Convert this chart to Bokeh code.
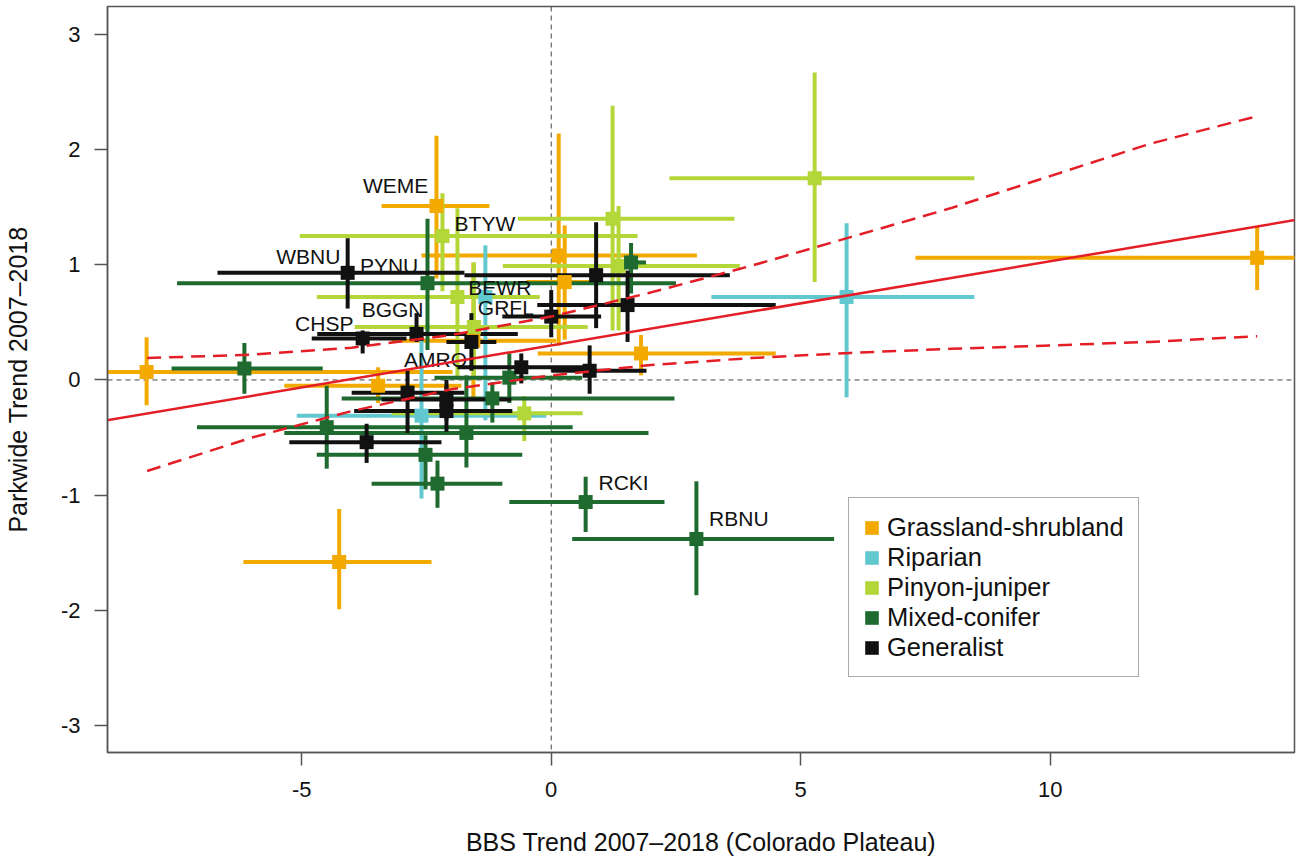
from bokeh.plotting import figure
from bokeh.models import Range1d, FixedTicker, Legend, LegendItem, ColumnDataSource, Span
from bokeh.embed import file_html
from bokeh.resources import INLINE
from bokeh.core.properties import value

# each row: bbs trend, parkwide trend, bbs low, bbs high, parkwide low, parkwide high
grassland = [
    (-8.11, 0.07, -14.2, -1.98, -0.22, 0.37),
    (-3.47, -0.05, -5.35, -1.80, -0.20, 0.11),
    (-4.25, -1.58, -6.17, -2.40, -1.99, -1.12),
    (-2.30, 1.51, -3.40, -1.24, 0.88, 2.12),
    (0.15, 1.08, -2.60, 2.92, 0.30, 2.14),
    (0.27, 0.85, -0.50, 1.00, 0.35, 1.34),
    (1.80, 0.23, -0.27, 4.50, 0.04, 0.39),
    (14.15, 1.06, 7.30, 21.0, 0.78, 1.33),
    (-1.56, 0.34, -3.20, 0.10, -0.18, 1.02),
]
riparian = [
    (5.92, 0.72, 3.21, 8.48, -0.15, 1.36),
    (-1.32, 0.72, -2.30, -0.30, -0.35, 1.17),
    (-2.60, -0.31, -5.10, -0.10, -1.03, 0.43),
]
pinyon = [
    (5.28, 1.75, 2.37, 8.48, 0.85, 2.67),
    (-2.18, 1.25, -5.04, 1.73, 0.77, 1.62),
    (1.23, 1.40, -0.67, 3.67, 0.43, 2.38),
    (1.35, 0.99, -0.97, 3.78, 0.43, 1.51),
    (-1.88, 0.72, -4.70, -0.23, 0.00, 1.49),
    (-1.55, 0.46, -3.94, 0.73, 0.00, 1.02),
    (-0.54, -0.29, -3.20, 0.63, -0.53, -0.14),
]
conifer = [
    (-6.15, 0.10, -7.61, -4.58, -0.12, 0.32),
    (-2.48, 0.84, -7.50, 2.50, 0.26, 1.40),
    (1.60, 1.02, 1.30, 1.90, 0.75, 1.19),
    (-0.84, 0.02, -2.34, 0.62, -0.20, 0.23),
    (-1.18, -0.16, -4.20, 2.47, -0.37, -0.02),
    (-1.70, -0.46, -5.35, 1.95, -0.76, 0.04),
    (-4.50, -0.41, -7.10, 0.43, -0.77, -0.05),
    (-2.28, -0.90, -3.60, -0.98, -1.11, -0.70),
    (-2.52, -0.65, -4.70, -0.58, -0.95, -0.48),
    (0.69, -1.06, -0.84, 2.27, -1.32, -0.84),
    (2.91, -1.38, 0.42, 5.67, -1.87, -0.88),
]
generalist = [
    (-4.08, 0.93, -6.69, -1.74, 0.62, 1.23),
    (0.90, 0.91, -1.74, 3.58, 0.45, 1.37),
    (1.53, 0.65, -0.28, 4.50, 0.33, 0.95),
    (0.00, 0.55, -0.98, 1.00, 0.37, 0.78),
    (-2.70, 0.40, -4.69, -0.67, 0.33, 0.58),
    (-3.78, 0.36, -4.80, -2.90, 0.23, 0.43),
    (-0.60, 0.11, -1.88, 0.70, -0.03, 0.23),
    (0.77, 0.08, 0.00, 1.91, -0.12, 0.30),
    (-2.88, -0.11, -4.00, -1.74, -0.46, 0.08),
    (-2.10, -0.17, -3.40, -0.80, -0.35, 0.00),
    (-2.10, -0.27, -3.95, -0.78, -0.45, -0.05),
    (-3.70, -0.54, -5.25, -2.20, -0.72, -0.38),
    (-1.60, 0.33, -2.10, -1.10, 0.08, 0.58),
]

group_names = ["Grassland-shrubland", "Riparian", "Pinyon-juniper", "Mixed-conifer", "Generalist"]
group_colors = ["#F2A900", "#62C8D0", "#B3D638", "#1F6A2E", "#111111"]
group_rows = [grassland, riparian, pinyon, conifer, generalist]

species = ["WEME", "BTYW", "WBNU", "PYNU", "BEWR", "GRFL", "BGGN", "CHSP", "AMRO", "RCKI", "RBNU"]
species_x = [-3.12, -1.33, -4.87, -3.25, -1.03, -0.91, -3.18, -4.55, -2.32, 1.45, 3.76]
species_y = [1.69, 1.36, 1.07, 0.99, 0.80, 0.63, 0.61, 0.49, 0.18, -0.89, -1.20]

fit_x = [-9.0, 15.0]
fit_y = [-0.357, 1.395]
band_x = [-8.1, -6.0, -4.0, -2.0, 0.0, 2.0, 4.0, 6.0, 8.0, 10.0, 12.0, 14.15]
band_hi = [0.19, 0.22, 0.28, 0.39, 0.55, 0.76, 0.99, 1.24, 1.49, 1.77, 2.05, 2.29]
band_lo = [-0.79, -0.50, -0.27, -0.08, 0.04, 0.13, 0.19, 0.235, 0.27, 0.30, 0.33, 0.38]

x_ticks = [-5, 0, 5, 10]
y_ticks = [-3, -2, -1, 0, 1, 2, 3]

FONT = "Liberation Sans"

p = figure(frame_width=1187, frame_height=746,
           x_range=Range1d(-8.894, 14.898), y_range=Range1d(-3.234, 3.242),
           output_backend="svg", toolbar_location=None,
           min_border_left=105, min_border_right=3, min_border_top=6, min_border_bottom=104,
           x_axis_label="BBS Trend 2007\u20132018 (Colorado Plateau)",
           y_axis_label="Parkwide Trend 2007\u20132018")
p.grid.visible = False
p.outline_line_color = "#555555"
p.outline_line_width = 1.5

p.xaxis.ticker = FixedTicker(ticks=x_ticks)
p.yaxis.ticker = FixedTicker(ticks=y_ticks)
p.xaxis.major_label_overrides = {t: str(t) for t in x_ticks}
p.yaxis.major_label_overrides = {t: str(t) for t in y_ticks}
p.axis.major_tick_out = 13
p.axis.major_tick_in = 0
p.axis.minor_tick_line_color = None
p.axis.axis_line_color = "#555555"
p.axis.axis_line_width = 1.5
p.axis.major_tick_line_color = "#555555"
p.axis.major_tick_line_width = 1.5
p.axis.major_label_text_font = FONT
p.axis.major_label_text_font_size = "22px"
p.axis.major_label_text_color = "#111111"
p.xaxis.major_label_standoff = 16
p.yaxis.major_label_standoff = 14
p.axis.axis_label_text_font = FONT
p.axis.axis_label_text_font_size = "25px"
p.axis.axis_label_text_font_style = "normal"
p.axis.axis_label_text_color = "#111111"
p.xaxis.axis_label_standoff = 28
p.yaxis.axis_label_standoff = 26

for dim in ["width", "height"]:
    p.add_layout(Span(location=0, dimension=dim, line_color="#444444",
                      line_width=1, line_dash="5 4", level="underlay"))

sources = []
for rows, color in zip(group_rows, group_colors):
    src = ColumnDataSource(dict(
        x=[r[0] for r in rows], y=[r[1] for r in rows],
        xlo=[r[2] for r in rows], xhi=[r[3] for r in rows],
        ylo=[r[4] for r in rows], yhi=[r[5] for r in rows]))
    sources.append(src)
    p.segment(x0="xlo", y0="y", x1="xhi", y1="y", source=src, line_color=color, line_width=4)
    p.segment(x0="x", y0="ylo", x1="x", y1="yhi", source=src, line_color=color, line_width=4)

items = []
for src, color, name in zip(sources, group_colors, group_names):
    r = p.rect("x", "y", width=14, height=14, width_units="screen", height_units="screen",
               source=src, fill_color=color, line_color=None)
    items.append(LegendItem(label=name, renderers=[r]))

p.text(x=species_x, y=species_y, text=species, text_font=value(FONT),
       text_font_size="21px", text_align="center", text_baseline="middle",
       text_color="#111111")

p.line(fit_x, fit_y, line_color="#E41E26", line_width=2.5)
p.line(band_x, band_hi, line_color="#E41E26", line_width=2.5, line_dash="14 8")
p.line(band_x, band_lo, line_color="#E41E26", line_width=2.5, line_dash="14 8")

legend = Legend(items=items, location=(741, 75), glyph_width=17, glyph_height=17,
                label_height=30, spacing=0, padding=14, label_standoff=7,
                label_text_font=FONT, label_text_font_size="25.5px",
                label_text_color="#111111", border_line_color="#555555",
                border_line_width=1.5, background_fill_alpha=1.0, margin=0)
p.add_layout(legend, "center")

open("out.html", "w").write(file_html(p, INLINE))
